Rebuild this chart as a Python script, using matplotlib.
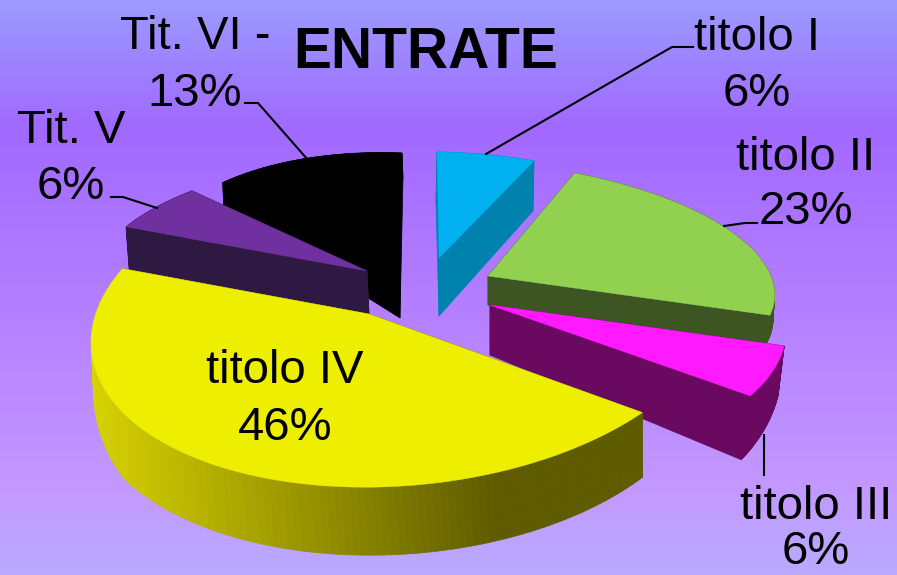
import numpy as np
import matplotlib
matplotlib.use('Agg')
import matplotlib.pyplot as plt
from matplotlib.colors import LinearSegmentedColormap

categories = ['titolo I', 'titolo II', 'titolo III', 'titolo IV', 'Tit. V', 'Tit. VI -']
shares = [6, 23, 6, 46, 6, 13]
top_colors = ['#00b0f0', '#92d050', '#ff19ff', '#eeee00', '#70309f', '#000000']
side_colors = ['#0082af', '#3c5522', '#690a60', '#5f5c00', '#2d1942', '#000000']

# every slice has its own warped disc: rim centre, two axes, apex
rim_center = [(439, 258), (488, 276), (490, 305), (404, 322), (367, 271), (400, 270)]
axis_u = [(263, 4), (286, 11), (294, 4), (312, -8), (273, 2), (245, 10)]
axis_v = [(-2, -106), (-20, -115), (-38, -149), (24, -165), (35, -115), (2, -117)]
apex = [(439, 258), (488, 276), (490, 305), (369, 314), (367, 271), (400, 270)]
# thickness of the slice as seen at a given screen y
depth_y = [[161, 258], [276, 315], [305, 346, 396], [269, 330, 413, 487], [192, 271], [183, 270]]
depth_d = [[50, 58], [29, 29], [50, 49, 64], [30, 40, 65, 68], [42, 43], [25, 48]]
depth_dx = [[-1, 0], [0, -4], [0, -6, -9], [3, 3, 0, 5], [4, 2], [1, 0]]
draw_order = [5, 4, 0, 1, 2, 3]

bg_pos = [0, 0.22, 0.6, 0.85, 1]
bg_colors = ['#9b9bff', '#a169ff', '#b884ff', '#c398ff', '#b9aaff']


def rim_points(i, th):
    cx, cy = rim_center[i]
    x = cx + axis_u[i][0] * np.sin(th) + axis_v[i][0] * np.cos(th)
    y = cy + axis_u[i][1] * np.sin(th) + axis_v[i][1] * np.cos(th)
    return x, y


def lower(i, x, y):
    return (x + np.interp(y, depth_y[i], depth_dx[i]),
            y + np.interp(y, depth_y[i], depth_d[i]))


fig = plt.figure(figsize=(8.97, 5.75), dpi=100)
ax = fig.add_axes([0, 0, 1, 1])
plt.rcParams['font.family'] = ['Liberation Sans', 'DejaVu Sans']

cmap = LinearSegmentedColormap.from_list('bg', list(zip(bg_pos, bg_colors)))
ax.imshow(np.linspace(0, 1, 575)[:, None], cmap=cmap, aspect='auto', extent=(0, 897, 575, 0), zorder=0)
ax.set_xlim(0, 897)
ax.set_ylim(575, 0)
ax.axis('off')

edges = np.cumsum([0] + shares) / np.sum(shares) * 2 * np.pi
for i in draw_order:
    th = np.linspace(edges[i], edges[i + 1], 120)
    x, y = rim_points(i, th)
    ax_, ay_ = apex[i]
    bx, by = lower(i, x, y)
    abx, aby = lower(i, np.array([ax_]), np.array([ay_]))
    z = 2 + draw_order.index(i)
    # the two cut faces
    for k in (0, -1):
        ax.fill([ax_, x[k], bx[k], abx[0]], [ay_, y[k], by[k], aby[0]],
                color=side_colors[i], lw=0.5, zorder=z)
    # rim, as thin strips so the yellow one can shade
    for k in range(len(th) - 1):
        c = side_colors[i]
        if i == 3:
            t = np.clip((x[k] - 95) / 400, 0, 1)
            c = np.array([215, 210, 0]) * (1 - t) + np.array([95, 92, 0]) * t
            c = c / 255
        ax.fill([x[k], x[k + 1], bx[k + 1], bx[k]], [y[k], y[k + 1], by[k + 1], by[k]],
                color=c, lw=0.5, zorder=z)
    ax.fill(np.r_[ax_, x], np.r_[ay_, y], color=top_colors[i], lw=0.3, zorder=z + 0.5)

text_kw = dict(ha='center', va='baseline', color='black', zorder=20)
ax.text(426, 68, 'ENTRATE', fontsize=41, fontweight='bold', **text_kw)

label_pos = [(757, 50, 106), (806, 170, 224), (816, 519, 564), (285, 383, 440), (71, 143, 199), (195, 49, 106)]
for name, share, (lx, y1, y2) in zip(categories, shares, label_pos):
    ax.text(lx, y1, name, fontsize=34, **text_kw)
    ax.text(lx, y2, f'{share}%', fontsize=34, **text_kw)

leaders = [([693, 672, 486], [47, 47, 154]),
           ([757, 745, 724], [223, 223, 226]),
           ([764, 764], [435, 475]),
           ([111, 123, 157], [197, 197, 208]),
           ([245, 258, 308], [103, 103, 160])]
for lx, ly in leaders:
    ax.plot(lx, ly, color='black', lw=1.5, zorder=15)

fig.savefig('out.png', dpi=100)
